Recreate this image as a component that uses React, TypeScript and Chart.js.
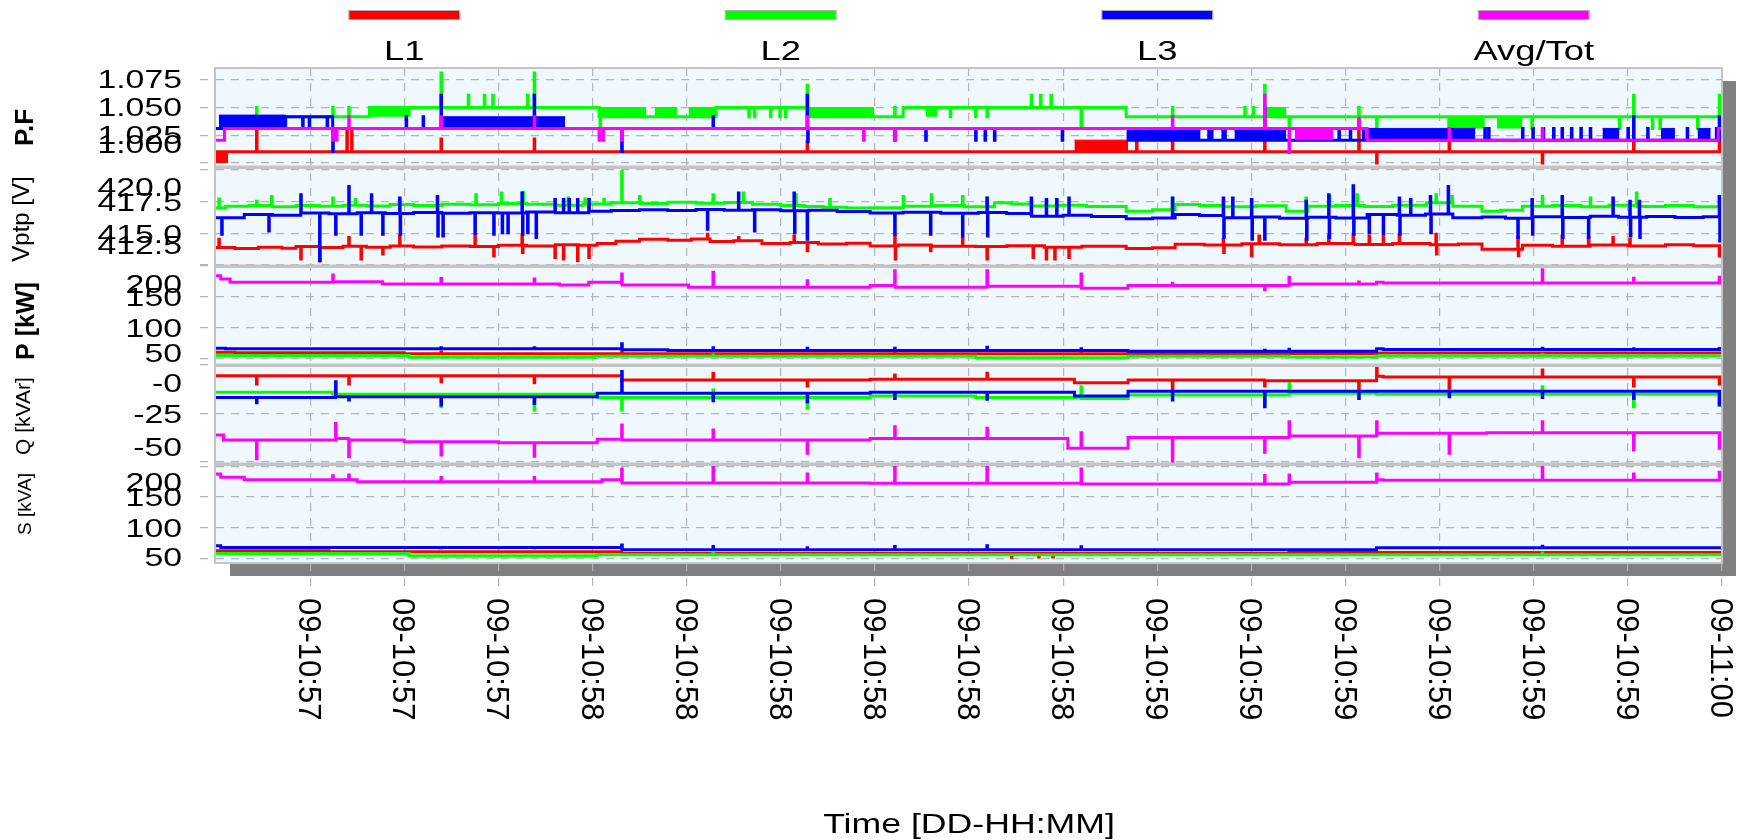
import React, { useEffect, useRef } from 'react';
import { Chart, registerables } from 'chart.js';

Chart.register(...registerables);

// ---------------- legend ----------------
const seriesLabels = ['L1', 'L2', 'L3', 'Avg/Tot'];
const seriesColors = ['#ff0000', '#00ff00', '#0000ff', '#ff00ff'];

// ---------------- time axis (seconds after 09-10:57:20) ----------------
const timeMin = 0;
const timeMax = 160;
const xTickValues = [10, 20, 30, 40, 50, 60, 70, 80, 90, 100, 110, 120, 130, 140, 150, 160];
const xTickLabels = [
  '09-10:57', '09-10:57', '09-10:57', '09-10:58', '09-10:58', '09-10:58', '09-10:58', '09-10:58',
  '09-10:58', '09-10:59', '09-10:59', '09-10:59', '09-10:59', '09-10:59', '09-10:59', '09-11:00',
];
const xTitle = 'Time [DD-HH:MM]';

// ---------------- P.F ----------------
const pfRange = [0.9965, 1.085];
const pfTickValues = [1.0, 1.025, 1.05, 1.075];
const pfTickLabels = ['1.000', '1.025', '1.050', '1.075'];
const pfRedSteps = [[0, 1.0101]];
const pfRedBands = [[0, 1.3, 1.0, 1.0101], [91.2, 96.9, 1.0101, 1.0205]];
const pfRedSpikes = [[4.3, 1.0306], [13.9, 1.0306], [14.4, 1.0306], [23.9, 1.0215], [33.8, 1.0215], [62.8, 1.0195], [97.8, 1.019], [101.6, 1.019], [111.4, 1.0205], [121.4, 1.041], [123.3, 1.0], [131.0, 1.019], [140.9, 1.0], [150.6, 1.019], [159.7, 1.019]];
const pfGreenSteps = [[0, 1.031], [0.5, 1.0414], [16.3, 1.0497], [40.7, 1.0414], [53.1, 1.0497], [62.8, 1.0414], [73.0, 1.0497], [96.7, 1.0414]];
const pfGreenBands = [[16.3, 20.7, 1.0414, 1.0497], [40.7, 45.7, 1.0414, 1.0497], [46.6, 49.0, 1.0414, 1.0497], [50.2, 53.1, 1.0414, 1.0497], [62.8, 69.9, 1.0414, 1.0497], [75.4, 76.6, 1.0414, 1.0497], [111.4, 113.7, 1.0414, 1.0497], [130.8, 134.8, 1.031, 1.0414], [136.1, 138.8, 1.031, 1.0414]];
const pfGreenSpikes = [[4.3, 1.0497], [12.4, 1.0497], [14.1, 1.0497], [23.9, 1.0806], [26.8, 1.0607], [28.5, 1.0607], [29.4, 1.0607], [33.1, 1.0607], [33.8, 1.0806], [40.8, 1.031], [56.6, 1.0414], [57.2, 1.0414], [58.9, 1.0414], [59.9, 1.0414], [60.5, 1.0414], [62.8, 1.0696], [72.1, 1.0497], [78.0, 1.0414], [80.7, 1.0414], [81.9, 1.0414], [86.6, 1.0607], [87.6, 1.0607], [88.7, 1.0607], [91.9, 1.031], [101.6, 1.0497], [109.3, 1.0497], [110.2, 1.0497], [111.4, 1.0696], [114.0, 1.031], [121.4, 1.0497], [123.3, 1.031], [139.8, 1.031], [149.1, 1.031], [150.6, 1.0607], [152.6, 1.031], [153.4, 1.031], [157.4, 1.031], [159.7, 1.0607]];
const pfBlueSteps = [[0, 1.031], [7.4, 1.0414], [12.4, 1.031], [96.9, 1.0205]];
const pfBlueBands = [[0.3, 7.4, 1.031, 1.0429], [23.9, 37.1, 1.031, 1.0414], [96.9, 104.6, 1.0205, 1.0295], [105.3, 106.0, 1.0205, 1.0295], [106.8, 107.4, 1.0205, 1.0295], [108.2, 113.7, 1.0205, 1.0295], [122.4, 133.8, 1.0205, 1.031], [147.3, 149.1, 1.0205, 1.031], [153.5, 155.0, 1.0205, 1.031], [157.4, 158.8, 1.0205, 1.031]];
const pfBlueSpikes = [[9.2, 1.031], [9.9, 1.031], [11.8, 1.031], [12.4, 1.0101], [20.2, 1.0414], [22.0, 1.0414], [23.9, 1.0607], [33.8, 1.0607], [43.1, 1.0101], [52.8, 1.0414], [62.8, 1.0607, 1.019], [72.1, 1.0205], [75.4, 1.0205], [80.7, 1.0205], [81.7, 1.0205], [82.7, 1.0205], [89.9, 1.0205], [111.4, 1.0497], [115.2, 1.031], [116.4, 1.031], [117.6, 1.031], [119.3, 1.031], [120.5, 1.031], [121.9, 1.031], [134.8, 1.031], [135.2, 1.031], [138.8, 1.031], [139.9, 1.031], [141.0, 1.031], [142.1, 1.031], [143.0, 1.031], [144.0, 1.031], [145.0, 1.031], [146.0, 1.031], [150.0, 1.031], [150.6, 1.0414], [152.1, 1.031], [156.3, 1.031], [159.4, 1.031], [159.7, 1.0414]];
const pfAvgSteps = [[0, 1.0205], [0.9, 1.031], [122.3, 1.0205], [159.6, 1.031]];
const pfAvgBands = [[114.6, 118.7, 1.0205, 1.031]];
const pfAvgSpikes = [[12.4, 1.0205], [12.8, 1.0205], [14.1, 1.0414], [23.9, 1.0414], [33.8, 1.0414], [40.7, 1.0205], [41.1, 1.0205], [43.1, 1.0205], [62.8, 1.0414], [68.8, 1.0205], [72.1, 1.0205], [101.6, 1.0414], [111.4, 1.0607], [114.0, 1.0095], [121.4, 1.04], [131.0, 1.031], [140.9, 1.031]];

// ---------------- Vptp ----------------
const vRange = [412.42, 420.23];
const vTickValues = [412.5, 415.0, 417.5, 420.0];
const vTickLabels = ['412.5', '415.0', '417.5', '420.0'];
const vRedSteps = [[0, 413.88], [2, 413.8], [4.5, 413.9], [7, 413.82], [8.5, 413.95], [11, 413.88], [13.5, 413.97], [16, 413.9], [18.5, 414.0], [21, 413.92], [24, 414.0], [27, 413.95], [30, 414.05], [33, 414.0], [36, 414.1], [38.5, 414.05], [40.5, 414.2], [42.5, 414.38], [45, 414.53], [48, 414.45], [50.5, 414.55], [52.5, 414.35], [55, 414.42], [58, 414.2], [61, 414.28], [64, 414.15], [67, 414.22], [69.5, 414.0], [72.5, 414.08], [76, 413.98], [80.7, 413.95], [84, 414.02], [88, 413.9], [92, 413.98], [96.7, 413.8], [99.5, 413.85], [101.9, 414.14], [105, 414.08], [109, 414.18], [113, 414.1], [117, 414.2], [121, 414.12], [125, 414.2], [129, 414.1], [132, 414.16], [134.5, 413.75], [138.8, 414.05], [142, 413.98], [146, 414.08], [150, 414.0], [154, 414.1], [157, 414.02]];
const vRedSpikes = [[0.3, 414.53], [9.0, 412.97], [11.0, 412.84], [14.1, 414.66], [15.4, 412.97], [17.7, 413.36], [19.5, 414.79], [27.5, 414.66], [29.5, 413.23], [32.5, 414.79, 413.49], [36.0, 413.1], [36.9, 412.97], [38.4, 412.84], [39.6, 413.1], [52.2, 414.92], [55.5, 414.66], [61.4, 414.79], [62.8, 413.62], [72.1, 414.79, 412.97], [75.9, 413.62], [79.3, 414.6], [81.9, 412.97], [86.8, 413.1], [88.2, 412.97], [89.1, 412.97], [90.6, 413.1], [107.0, 414.53, 413.49], [110.0, 413.23], [110.8, 414.79], [115.8, 414.53], [118.2, 414.79], [120.8, 414.92], [122.5, 414.79], [124.0, 414.66], [125.7, 414.92], [129.6, 414.92, 413.36], [138.3, 414.66, 413.23], [143.0, 414.79], [145.8, 414.66], [148.4, 414.66], [150.2, 414.53], [159.7, 413.23]];
const vGreenSteps = [[0, 417.0], [1, 417.13], [3.5, 417.2], [6, 417.1], [8.5, 417.2], [11, 417.13], [13.5, 417.22], [16, 417.15], [18.5, 417.27], [21, 417.2], [24, 417.3], [27, 417.25], [30, 417.35], [33, 417.3], [36, 417.22], [39, 417.32], [42, 417.4], [45, 417.35], [48, 417.45], [51, 417.38], [54, 417.42], [57, 417.3], [60, 417.2], [62.5, 417.12], [64.5, 417.05], [67, 417.0], [69.5, 417.02], [73, 417.13], [76.5, 417.2], [79.5, 417.1], [82.7, 417.4], [84.5, 417.32], [86.6, 417.15], [89.5, 417.22], [92.5, 417.12], [96.7, 416.74], [99.5, 416.85], [101.9, 417.27], [104.5, 417.2], [107, 417.1], [110.5, 417.18], [113.7, 416.74], [116, 417.13], [119, 417.2], [122, 417.12], [125, 417.22], [128.6, 417.4], [131.4, 417.13], [134.5, 416.74], [136.5, 416.82], [138.8, 417.13], [142, 417.2], [145, 417.1], [148, 417.22], [151, 417.12], [154, 417.2], [157, 417.1]];
const vGreenSpikes = [[0.3, 417.71], [4.3, 417.52], [5.9, 417.9], [12.4, 417.79], [14.8, 417.66], [27.6, 418.05], [30.3, 418.18], [32.6, 418.23], [37.4, 417.79], [39.2, 417.71], [41.2, 417.66], [43.1, 419.87], [45.0, 417.9], [52.8, 418.05], [56.0, 418.18], [61.6, 418.05], [65.2, 417.66], [73.0, 417.9], [76.0, 418.05], [79.3, 417.9], [81.9, 417.79], [101.6, 417.79], [115.8, 417.79], [118.3, 417.9], [121.2, 418.05], [129.6, 418.05], [131.3, 417.9], [140.9, 417.9], [146.0, 417.79], [150.9, 418.18], [159.7, 417.9]];
const vBlueSteps = [[0, 416.22], [3, 416.48], [6, 416.42], [9, 416.61], [12, 416.55], [15, 416.62], [18, 416.56], [21, 416.64], [24, 416.58], [27, 416.63], [30, 416.6], [33, 416.68], [36, 416.62], [39.6, 416.74], [42, 416.8], [45, 416.86], [48, 416.8], [51, 416.88], [54, 416.82], [57, 416.86], [60, 416.78], [63, 416.82], [66, 416.72], [69.5, 416.61], [73, 416.66], [77, 416.58], [81, 416.64], [84, 416.56], [86.6, 416.35], [90, 416.42], [93, 416.32], [96.7, 416.15], [99.5, 416.2], [101.9, 416.48], [104.5, 416.4], [107, 416.22], [110, 416.28], [113, 416.18], [116, 416.26], [119, 416.2], [122.3, 416.48], [125.5, 416.42], [128.5, 416.52], [131.4, 416.22], [134.5, 416.28], [137, 416.18], [139.8, 416.3], [143, 416.24], [146, 416.34], [149, 416.26], [152, 416.32], [155, 416.24], [158, 416.3]];
const vBlueSpikes = [[0.6, 414.92], [5.6, 415.18], [9.0, 418.05], [11.0, 412.84], [12.7, 414.92], [14.1, 418.7], [15.4, 414.92], [16.5, 418.05], [17.7, 414.92], [19.5, 417.79, 414.92], [23.5, 417.91, 414.79], [24.1, 414.79], [27.5, 414.92], [29.5, 414.92], [30.4, 415.05], [31.0, 415.05], [32.5, 418.18, 414.92], [33.1, 415.05], [34.0, 414.66], [36.0, 417.66], [36.9, 417.66], [37.5, 417.66], [38.4, 417.66], [39.6, 417.66], [52.2, 415.31], [55.5, 418.18], [57.2, 415.18], [61.4, 418.18, 415.05], [62.8, 414.53], [72.1, 414.92], [75.9, 414.92], [79.3, 414.79], [81.9, 417.79, 414.79], [86.6, 417.79], [88.2, 417.66], [89.3, 417.66], [90.6, 417.79], [101.6, 417.79], [107.0, 417.79, 414.66], [108.0, 417.79], [110.0, 417.66, 414.53], [111.4, 414.53], [115.8, 417.52, 414.53], [118.2, 418.05, 414.66], [120.8, 418.75, 414.92], [122.5, 415.05], [124.0, 414.92], [125.7, 417.79, 414.92], [126.9, 417.66], [129.0, 417.91, 415.05], [130.9, 418.7], [138.3, 414.66], [139.8, 417.66, 414.92], [143.0, 417.91, 414.66], [145.8, 414.66], [148.4, 417.79], [150.2, 417.52, 414.79], [151.2, 417.52, 414.66], [159.7, 417.91, 414.4]];

// ---------------- P [kW] ----------------
const pRange = [40, 200];
const pTickValues = [50, 100, 150, 200];
const pTickLabels = ['50', '100', '150', '200'];
const pRedSteps = [[0, 60.8], [2, 59.7], [20, 58.1], [96.9, 58.5], [123.3, 59.2]];
const pRedSpikes = [[23.9, 61], [43.1, 61.5], [72.1, 61], [91.9, 60.8]];
const pGreenSteps = [[0, 55.5], [20.5, 52.7], [40.3, 54], [80.7, 51.8], [96.9, 54.3], [114, 53], [123.3, 54.5]];
const pGreenSpikes = [[52.8, 56], [140.9, 56.5]];
const pBlueSteps = [[0, 67.2], [1, 66.1], [43.1, 64.5], [48, 63.4], [96.9, 62.3], [123.3, 66.1], [124, 65]];
const pBlueSpikes = [[23.9, 68], [33.8, 68], [43.1, 74.2], [52.8, 68], [62.8, 67], [72.1, 67.2], [81.9, 68.8], [91.9, 66.1], [111.4, 64], [114.0, 65.5], [140.9, 67.2], [150.6, 66.1], [159.7, 66.5]];
const pAvgSteps = [[0, 184.4], [0.5, 179], [1.5, 173.7], [12.4, 174.7], [17.7, 171], [36.5, 169.4], [39.6, 173.7], [43.1, 169.4], [50.2, 165.6], [69.5, 168.3], [72.1, 165.6], [81.9, 167.2], [91.9, 164], [96.9, 168.3], [114.0, 171], [123.3, 173.7], [124, 172.6]];
const pAvgSpikes = [[12.4, 185.5], [23.9, 180], [33.8, 179], [43.1, 187.1], [52.8, 189.8], [62.8, 176], [72.1, 192.5], [81.9, 192.5], [91.9, 187.1], [101.6, 172], [111.4, 161.8], [114.0, 181.7], [121.4, 174], [140.9, 194.1], [150.6, 180.1], [159.7, 181.7]];

// ---------------- Q [kVAr] ----------------
const qRange = [-51, 0];
const qTickValues = [-50, -25, 0];
const qTickLabels = ['-50', '-25', '-0'];
const qRedSteps = [[0, -5.5], [43.1, -7.7], [69.5, -7.4], [91.2, -9.1], [96.9, -7.7], [111.4, -8.1], [123.3, -5.8], [124, -6.2]];
const qRedSpikes = [[4.3, -9.8], [14.1, -9.8], [23.9, -8.6], [33.8, -9.1], [52.8, -4.3], [62.8, -10.8], [72.1, -5.2], [81.9, -4.3], [101.6, -12.9], [111.4, -10.8], [121.4, -13.7], [123.3, -0.9], [131.0, -12.0], [140.9, -2.6], [150.6, -10.8], [159.7, -9.8]];
const qGreenSteps = [[0, -14.1], [12.4, -15.1], [40.5, -16.7], [69.5, -16.0], [80.7, -16.8], [91.9, -17.2], [96.9, -15.5], [114.0, -14.6], [123.3, -15.1]];
const qGreenSpikes = [[23.9, -21.5], [33.8, -23.2], [43.1, -23.2], [52.8, -12.9], [62.8, -22.3], [91.9, -11.2], [111.4, -19.0], [114.0, -9.5], [140.9, -11.2], [150.6, -21.5], [159.7, -20.6]];
const qBlueSteps = [[0, -16.7], [12.7, -16.3], [40.5, -14.6], [69.5, -14.1], [91.2, -16.0], [96.9, -13.5]];
const qBlueSpikes = [[4.3, -19.4], [12.7, -8.6], [14.1, -18.0], [23.9, -20.6], [33.8, -19.8], [43.1, -3.4], [52.8, -18.4], [62.8, -18.9], [72.1, -17.2], [81.9, -17.7], [101.6, -18.0], [111.4, -21.5], [121.4, -17.2], [131.0, -16.3], [140.9, -16.7], [150.6, -17.2], [159.7, -20.6]];
const qAvgSteps = [[0, -36.1], [0.8, -38.7], [12.7, -37.8], [14.1, -38.7], [20, -39.5], [30, -40.0], [40.5, -38.3], [43.1, -38.7], [69.5, -37.8], [90.5, -42.9], [96.9, -37.3], [114.0, -36.6], [123.3, -35.2], [135, -34.9]];
const qAvgSpikes = [[4.3, -48.3], [12.7, -30.1], [14.1, -47.3], [23.9, -46.4], [33.8, -47.0], [43.1, -30.9], [52.8, -33.5], [62.8, -45.5], [72.1, -31.8], [81.9, -32.6], [91.9, -34.9], [101.6, -49.7], [111.4, -45.0], [114.0, -29.2], [121.4, -47.3], [123.3, -29.2], [131.0, -45.5], [140.9, -29.2], [150.6, -43.8], [159.7, -42.9]];

// ---------------- S [kVA] ----------------
const sRange = [42, 204];
const sTickValues = [50, 100, 150, 200];
const sTickLabels = ['50', '100', '150', '200'];
const sRedSteps = [[0, 62], [12, 60.4], [43.1, 57.7], [114, 59.3]];
const sRedSpikes = [[84.5, 51.5], [87.4, 52], [88.9, 52]];
const sGreenSteps = [[0, 57.7], [20.5, 53.8], [40.5, 55.5]];
const sGreenSpikes = [[52.8, 58], [140.9, 58.5]];
const sBlueSteps = [[0, 70.2], [0.5, 67.5], [43.1, 63.6], [123.3, 66.9]];
const sBlueSpikes = [[23.9, 67], [33.8, 67], [43.1, 71.3], [52.8, 69], [62.8, 67], [72.1, 69.1], [81.9, 70.2], [91.9, 68.5], [140.9, 69.5]];
const sAvgSteps = [[0, 187.7], [0.5, 182.2], [3, 178.4], [15, 175.1], [41.0, 178.4], [43.1, 173], [69.5, 172.4], [91.9, 171.3], [114.0, 174], [123.3, 178.4], [124, 177.3]];
const sAvgSpikes = [[12.4, 184.9], [14.1, 186.1], [23.9, 182], [33.8, 182], [43.1, 195.9], [52.8, 198.7], [62.8, 187.7], [72.1, 198.7], [81.9, 198.7], [91.9, 195.9], [111.4, 185], [114.0, 186.1], [123.3, 187.7], [140.9, 201], [150.6, 187.7], [159.7, 190.5]];

// ---------------- panel definitions (data) ----------------
const panels: any[] = [
  { id: 'yPF', title: 'P.F', range: pfRange, ticks: pfTickValues, labels: pfTickLabels,
    steps: [pfRedSteps, pfGreenSteps, pfBlueSteps, pfAvgSteps], spikes: [pfRedSpikes, pfGreenSpikes, pfBlueSpikes, pfAvgSpikes], bands: [pfRedBands, pfGreenBands, pfBlueBands, pfAvgBands] },
  { id: 'yV', title: 'Vptp [V]', range: vRange, ticks: vTickValues, labels: vTickLabels,
    steps: [vRedSteps, vGreenSteps, vBlueSteps], spikes: [vRedSpikes, vGreenSpikes, vBlueSpikes], bands: [] },
  { id: 'yP', title: 'P [kW]', range: pRange, ticks: pTickValues, labels: pTickLabels,
    steps: [pRedSteps, pGreenSteps, pBlueSteps, pAvgSteps], spikes: [pRedSpikes, pGreenSpikes, pBlueSpikes, pAvgSpikes], bands: [] },
  { id: 'yQ', title: 'Q [kVAr]', range: qRange, ticks: qTickValues, labels: qTickLabels,
    steps: [qRedSteps, qGreenSteps, qBlueSteps, qAvgSteps], spikes: [qRedSpikes, qGreenSpikes, qBlueSpikes, qAvgSpikes], bands: [] },
  { id: 'yS', title: 'S [kVA]', range: sRange, ticks: sTickValues, labels: sTickLabels,
    steps: [sRedSteps, sGreenSteps, sBlueSteps, sAvgSteps], spikes: [sRedSpikes, sGreenSpikes, sBlueSpikes, sAvgSpikes], bands: [] },
];

// ---------------- styles (not data) ----------------
const FONT = '"Liberation Sans", Arial, sans-serif';
const panelStyles: any = {
  yPF: { font: `bold 26px ${FONT}`, bx: 33, dy: 10, inTop: 10, inBot: 23 },
  yV: { font: `24px ${FONT}`, bx: 29, dy: 2.5, inTop: 20, inBot: 21 },
  yP: { font: `bold 25px ${FONT}`, bx: 34, dy: 5.5, inTop: 18, inBot: 12 },
  yQ: { font: `21px ${FONT}`, bx: 30, dy: 1.5, inTop: 18, inBot: 17 },
  yS: { font: `19px ${FONT}`, bx: 31, dy: -9.5, inTop: 18, inBot: 6 },
};
const seriesOrder = [3, 2, 1, 0];
const gridColor = '#b4b4b4';
const STRETCH = 1.3;

function baseAt(steps: number[][], t: number) {
  let v = steps[0][1];
  for (const s of steps) {
    if (s[0] <= t) v = s[1];
    else break;
  }
  return v;
}

function buildLine(steps: number[][], spikes: number[][]) {
  const pts: any[] = steps.map((s) => ({ x: s[0], y: s[1] }));
  spikes.forEach((s) => {
    const t = s[0];
    const b = baseAt(steps, t);
    for (let i = 1; i < s.length; i++) pts.push({ x: t + (i - 1) * 0.06, y: s[i] });
    pts.push({ x: t + (s.length - 1) * 0.06, y: b });
  });
  pts.push({ x: timeMax, y: baseAt(steps, timeMax) });
  pts.sort((a, b) => a.x - b.x);
  return pts;
}

function buildDatasets() {
  const ds: any[] = [];
  panels.forEach((p) => {
    p.steps.forEach((steps: number[][], i: number) => {
      ds.push({
        label: seriesLabels[i],
        data: buildLine(steps, p.spikes[i]),
        yAxisID: p.id,
        borderColor: seriesColors[i],
        backgroundColor: seriesColors[i],
        borderWidth: 3,
        stepped: 'before',
        pointRadius: 0,
        fill: false,
        order: seriesOrder[i],
      });
    });
    p.bands.forEach((list: number[][], i: number) => {
      list.forEach((b) => {
        ds.push({
          label: seriesLabels[i] + ' band',
          data: [{ x: b[0], y: b[3] }, { x: b[1], y: b[3] }],
          yAxisID: p.id,
          borderColor: seriesColors[i],
          backgroundColor: seriesColors[i],
          borderWidth: 1,
          pointRadius: 0,
          fill: { value: b[2] },
          order: seriesOrder[i],
        });
      });
    });
  });
  return ds;
}

function stretchedText(ctx: any, text: string, x: number, y: number, font: string, align: string, sx: number) {
  ctx.save();
  ctx.translate(x, y);
  ctx.scale(sx, 1);
  ctx.font = font;
  ctx.textAlign = align;
  ctx.textBaseline = 'alphabetic';
  ctx.fillText(text, 0, 0);
  ctx.restore();
}

const framePlugin = {
  id: 'frame',
  beforeDraw(chart: any) {
    const { ctx, chartArea: a } = chart;
    ctx.save();
    ctx.fillStyle = '#ffffff';
    ctx.fillRect(0, 0, chart.width, chart.height);
    ctx.fillStyle = '#808080';
    ctx.fillRect(a.left + 14, a.top + 13, a.right - a.left, a.bottom - a.top);
    ctx.fillStyle = '#f0f8ff';
    ctx.fillRect(a.left, a.top, a.right - a.left, a.bottom - a.top);
    ctx.restore();
  },
  afterDatasetsDraw(chart: any) {
    const { ctx, chartArea: a } = chart;
    ctx.save();
    ctx.fillStyle = '#c4c4c4';
    for (let k = 0; k < panels.length - 1; k++) {
      const s = chart.scales[panels[k].id];
      ctx.fillRect(a.left - 2, s.bottom - 1.5, a.right - a.left + 2, 3.5);
    }
    ctx.strokeStyle = '#c4c4c4';
    ctx.lineWidth = 2;
    ctx.strokeRect(a.left - 1, a.top, a.right - a.left + 1, a.bottom - a.top);
    ctx.restore();
  },
  afterDraw(chart: any) {
    const { ctx, chartArea: a } = chart;
    ctx.save();
    // legend
    const w = (a.right - a.left) / seriesLabels.length;
    seriesLabels.forEach((lab, i) => {
      const cx = a.left + w * (i + 0.5);
      ctx.fillStyle = seriesColors[i];
      ctx.fillRect(cx - 55, 11, 110, 8);
      ctx.strokeStyle = 'rgba(140,140,140,0.7)';
      ctx.lineWidth = 1;
      ctx.strokeRect(cx - 55.5, 10.5, 111, 9);
      ctx.fillStyle = '#000';
      stretchedText(ctx, lab, cx, 60, `28px ${FONT}`, 'center', STRETCH);
    });
    // y axes labels and titles
    ctx.fillStyle = '#000';
    panels.forEach((p) => {
      const s = chart.scales[p.id];
      const st = panelStyles[p.id];
      p.ticks.forEach((v: number, j: number) => {
        let y = s.getPixelForValue(v);
        y = Math.max(s.top + st.inTop, Math.min(s.bottom - st.inBot, y));
        stretchedText(ctx, p.labels[j], 182, y + 9.3, `26px ${FONT}`, 'right', STRETCH);
      });
      ctx.save();
      ctx.translate(st.bx, (s.top + s.bottom) / 2 + st.dy);
      ctx.rotate(-Math.PI / 2);
      ctx.font = st.font;
      ctx.textAlign = 'center';
      ctx.textBaseline = 'alphabetic';
      ctx.fillText(p.title, 0, 0);
      ctx.restore();
    });
    // x tick labels (rotated clockwise)
    const xs = chart.scales.x;
    xTickValues.forEach((v, j) => {
      const x = xs.getPixelForValue(v);
      ctx.save();
      ctx.translate(x - 11, 598);
      ctx.rotate(Math.PI / 2);
      ctx.font = `31px ${FONT}`;
      ctx.textAlign = 'left';
      ctx.textBaseline = 'alphabetic';
      ctx.fillText(xTickLabels[j], 0, 0);
      ctx.restore();
    });
    stretchedText(ctx, xTitle, (a.left + a.right) / 2, 833, `27px ${FONT}`, 'center', 1.32);
    ctx.restore();
  },
};

export default function App() {
  const ref = useRef<HTMLCanvasElement | null>(null);
  useEffect(() => {
    if (!ref.current) return;
    const scales: any = {
      x: {
        type: 'linear',
        position: 'bottom',
        min: timeMin,
        max: timeMax,
        afterBuildTicks: (s: any) => { s.ticks = xTickValues.map((v) => ({ value: v })); },
        afterFit: (s: any) => { s.height = 277; },
        ticks: { display: false },
        grid: { color: gridColor, lineWidth: 1.2, drawTicks: true, tickLength: 24, tickColor: gridColor, tickWidth: 1.2, tickBorderDash: [8, 7] },
        border: { display: false, dash: [8, 7] },
      },
    };
    panels.forEach((p, k) => {
      scales[p.id] = {
        type: 'linear',
        position: 'left',
        stack: 'panels',
        stackWeight: 1,
        weight: 10 - k,
        min: p.range[0],
        max: p.range[1],
        afterBuildTicks: (s: any) => { s.ticks = p.ticks.map((v: number) => ({ value: v })); },
        afterFit: (s: any) => { s.width = 216; },
        ticks: { display: false },
        grid: { color: gridColor, lineWidth: 1.2, drawTicks: true, tickLength: 16, tickColor: gridColor, tickWidth: 1.2, tickBorderDash: [8, 7] },
        border: { display: false, dash: [8, 7] },
      };
    });
    const chart = new Chart(ref.current, {
      type: 'line',
      data: { datasets: buildDatasets() },
      options: {
        animation: false,
        responsive: false,
        devicePixelRatio: 1,
        parsing: false,
        events: [],
        layout: { padding: { top: 68, right: 18, left: 0, bottom: 0 } },
        plugins: { legend: { display: false }, tooltip: { enabled: false }, title: { display: false } },
        scales,
      } as any,
      plugins: [framePlugin],
    });
    return () => chart.destroy();
  }, []);
  return (
    <div style={{ position: 'fixed', left: 0, top: 0, width: 1740, height: 840, background: '#fff' }}>
      <canvas ref={ref} width={1740} height={840} style={{ width: 1740, height: 840, display: 'block' }} />
    </div>
  );
}
